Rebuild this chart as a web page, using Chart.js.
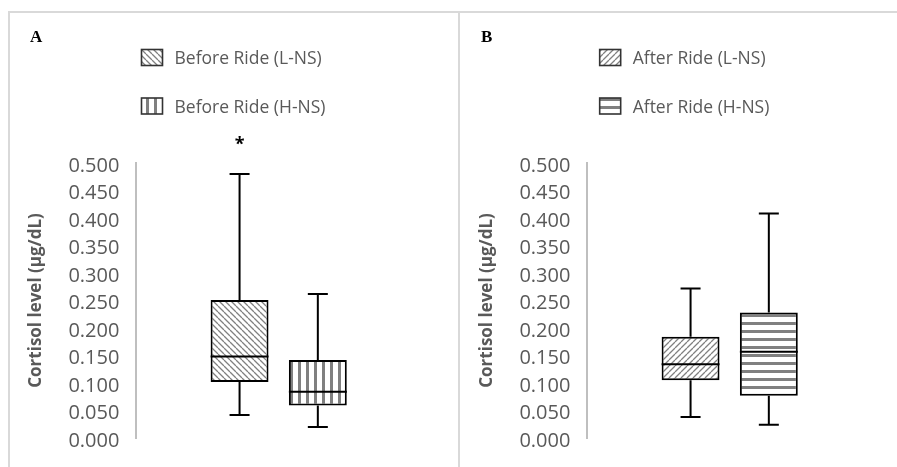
<!DOCTYPE html>
<html>
<head>
<meta charset="utf-8">
<script src="https://cdn.jsdelivr.net/npm/chart.js@4.4.0/dist/chart.umd.min.js"></script>
<style>
  html, body { margin: 0; padding: 0; background: #fff; }
  body { width: 897px; height: 467px; overflow: hidden; position: relative; }
  .frame { position: absolute; top: 11px; height: 460px; border-top: 2px solid #d9d9d9; border-left: 2px solid #d9d9d9; }
  .wrap { position: absolute; top: 0; width: 451px; height: 467px; }
</style>
</head>
<body>
<div class="frame" style="left:8px;width:449px"></div>
<div class="frame" style="left:458px;width:450px"></div>
<div class="wrap" style="left:8px"><canvas id="chartA"></canvas></div>
<div class="wrap" style="left:459px"><canvas id="chartB"></canvas></div>

<script>
// box stats: [min, q1, median, q3, max]
const categories = [''];
const labelsA = ['Before Ride (L-NS)', 'Before Ride (H-NS)'];
const labelsB = ['After Ride (L-NS)', 'After Ride (H-NS)'];
const beforeLNS = [0.042, 0.102, 0.148, 0.251, 0.480];
const beforeHNS = [0.020, 0.059, 0.084, 0.142, 0.262];
const afterLNS = [0.038, 0.105, 0.134, 0.184, 0.272];
const afterHNS = [0.024, 0.077, 0.157, 0.228, 0.408];
const marksA = ['*', ''];
const marksB = ['', ''];
const yTickValues = [0, 0.05, 0.1, 0.15, 0.2, 0.25, 0.3, 0.35, 0.4, 0.45, 0.5];
const yTitle = 'Cortisol level (µg/dL)';

const GRAY = '#595959';

// hatch fills
function makePattern(kind) {
  const c = document.createElement('canvas');
  const s = (kind === 'vert' || kind === 'horiz') ? 8 : 6;
  c.width = s; c.height = s;
  const g = c.getContext('2d');
  g.fillStyle = '#fff';
  g.fillRect(0, 0, s, s);
  g.fillStyle = '#808080';
  g.strokeStyle = '#808080';
  g.lineWidth = 1.3;
  if (kind === 'vert') {
    g.fillRect(2, 0, 3, s);
  } else if (kind === 'horiz') {
    g.fillRect(0, 2, s, 3);
  } else {
    g.beginPath();
    for (let k = -1; k <= 1; k++) {
      if (kind === 'back') { g.moveTo(k * s, 0); g.lineTo(k * s + s, s); }
      else { g.moveTo(k * s, s); g.lineTo(k * s + s, 0); }
    }
    g.stroke();
  }
  return g.createPattern(c, 'repeat');
}

const boxPlugin = {
  id: 'boxWhisker',
  afterDatasetsDraw(chart) {
    const ctx = chart.ctx;
    const y = chart.scales.y;
    chart.data.datasets.forEach((ds, i) => {
      chart.getDatasetMeta(i).data.forEach((bar) => {
        const s = ds.stats;
        const x = bar.x, half = bar.width / 2, cap = 10;
        ctx.save();
        ctx.strokeStyle = '#000';
        ctx.lineWidth = 2;
        ctx.beginPath();
        const yMed = y.getPixelForValue(s[2]);
        ctx.moveTo(x - half, yMed); ctx.lineTo(x + half, yMed);
        const yMax = y.getPixelForValue(s[4]);
        ctx.moveTo(x, y.getPixelForValue(s[3])); ctx.lineTo(x, yMax);
        ctx.moveTo(x - cap, yMax); ctx.lineTo(x + cap, yMax);
        const yMin = y.getPixelForValue(s[0]);
        ctx.moveTo(x, y.getPixelForValue(s[1])); ctx.lineTo(x, yMin);
        ctx.moveTo(x - cap, yMin); ctx.lineTo(x + cap, yMin);
        ctx.stroke();
        ctx.restore();
      });
    });
  }
};

// legend, panel letter and significance marks
const decorPlugin = {
  id: 'decor',
  afterDraw(chart, args, opts) {
    const ctx = chart.ctx;
    const sets = chart.data.datasets;
    ctx.save();
    ctx.font = '17.5px "Open Sans"';
    const tw = Math.max(...sets.map(d => ctx.measureText(d.label).width));
    const sw = 21, sh = 16, gap = 12;
    const left = chart.width / 2 - (sw + gap + tw) / 2;
    const rows = [57.5, 106];
    sets.forEach((d, i) => {
      const yc = rows[i];
      ctx.fillStyle = d.backgroundColor;
      ctx.fillRect(left, yc - sh / 2, sw, sh);
      ctx.strokeStyle = '#333';
      ctx.lineWidth = 1.6;
      ctx.strokeRect(left, yc - sh / 2, sw, sh);
      ctx.fillStyle = GRAY;
      ctx.textBaseline = 'middle';
      ctx.textAlign = 'left';
      ctx.fillText(d.label, left + sw + gap, yc + 2);
    });
    ctx.fillStyle = '#000';
    ctx.textBaseline = 'alphabetic';
    ctx.font = 'bold 17px "Liberation Serif"';
    ctx.fillText(opts.letter, 22, 42);
    ctx.font = 'bold 18px "Open Sans"';
    ctx.textAlign = 'center';
    opts.marks.forEach((m, i) => {
      const bar = chart.getDatasetMeta(i).data[0];
      if (m) ctx.fillText(m, bar.x, chart.chartArea.top - 13);
    });
    ctx.restore();
  }
};

function makeChart(id, letter, labels, statsList, patterns, marks) {
  return new Chart(document.getElementById(id), {
    type: 'bar',
    data: {
      labels: categories,
      datasets: statsList.map((s, i) => ({
        label: labels[i],
        stats: s,
        data: [[s[1], s[3]]],
        backgroundColor: makePattern(patterns[i]),
        borderColor: '#000',
        borderWidth: 2,
        borderSkipped: false,
        categoryPercentage: 0.55,
        barPercentage: 0.74
      }))
    },
    options: {
      responsive: true,
      maintainAspectRatio: false,
      animation: false,
      events: [],
      layout: { padding: { top: 163, bottom: 25, left: 9, right: 38 } },
      plugins: {
        legend: { display: false },
        tooltip: { enabled: false },
        decor: { letter: letter, marks: marks }
      },
      scales: {
        x: { display: false },
        y: {
          min: 0,
          max: 0.5,
          afterBuildTicks: (s) => { s.ticks = yTickValues.map(v => ({ value: v })); },
          border: { display: true, color: '#bfbfbf', width: 2 },
          grid: { display: false, drawTicks: false },
          ticks: {
            autoSkip: false,
            color: GRAY,
            padding: 17,
            labelOffset: 3,
            font: { family: 'Open Sans', size: 20 },
            callback: (v) => Number(v).toFixed(3)
          },
          title: {
            display: true,
            text: yTitle,
            color: GRAY,
            font: { family: 'Open Sans', size: 17, weight: 'bold' },
            padding: { top: 9, bottom: 5 }
          }
        }
      }
    },
    plugins: [boxPlugin, decorPlugin]
  });
}

makeChart('chartA', 'A', labelsA, [beforeLNS, beforeHNS], ['back', 'vert'], marksA);
makeChart('chartB', 'B', labelsB, [afterLNS, afterHNS], ['fwd', 'horiz'], marksB);
</script>
</body>
</html>
